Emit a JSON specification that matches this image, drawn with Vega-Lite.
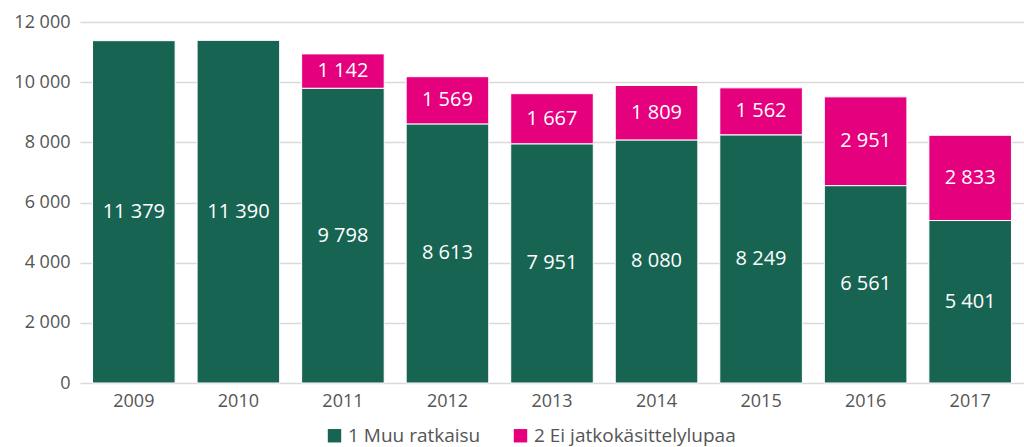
{
  "$schema": "https://vega.github.io/schema/vega-lite/v6.json",
  "width": 944,
  "height": 361,
  "autosize": {"type": "none"},
  "padding": {"left": 80, "top": 22, "right": 0, "bottom": 64},
  "config": {
    "locale": {"number": {"decimal": ",", "thousands": "\u00a0", "grouping": [3], "currency": ["", " €"]}},
    "view": {"stroke": null},
    "font": "Open Sans",
    "axis": {"labelFont": "Open Sans", "labelFontSize": 18, "labelColor": "#555555"},
    "legend": {"labelFont": "Open Sans", "labelFontSize": 19, "labelColor": "#555555"}
  },
  "data": {
    "values": [
      {"year": "2009", "series": "1 Muu ratkaisu", "value": 11379},
      {"year": "2010", "series": "1 Muu ratkaisu", "value": 11390},
      {"year": "2011", "series": "1 Muu ratkaisu", "value": 9798},
      {"year": "2011", "series": "2 Ei jatkokäsittelylupaa", "value": 1142},
      {"year": "2012", "series": "1 Muu ratkaisu", "value": 8613},
      {"year": "2012", "series": "2 Ei jatkokäsittelylupaa", "value": 1569},
      {"year": "2013", "series": "1 Muu ratkaisu", "value": 7951},
      {"year": "2013", "series": "2 Ei jatkokäsittelylupaa", "value": 1667},
      {"year": "2014", "series": "1 Muu ratkaisu", "value": 8080},
      {"year": "2014", "series": "2 Ei jatkokäsittelylupaa", "value": 1809},
      {"year": "2015", "series": "1 Muu ratkaisu", "value": 8249},
      {"year": "2015", "series": "2 Ei jatkokäsittelylupaa", "value": 1562},
      {"year": "2016", "series": "1 Muu ratkaisu", "value": 6561},
      {"year": "2016", "series": "2 Ei jatkokäsittelylupaa", "value": 2951},
      {"year": "2017", "series": "1 Muu ratkaisu", "value": 5401},
      {"year": "2017", "series": "2 Ei jatkokäsittelylupaa", "value": 2833}
    ]
  },
  "transform": [
    {"stack": "value", "groupby": ["year"], "sort": [{"field": "series", "order": "ascending"}], "as": ["v0", "v1"]},
    {"calculate": "(datum.v0 + datum.v1) / 2", "as": "mid"}
  ],
  "encoding": {
    "x": {
      "field": "year", "type": "ordinal", "title": null,
      "scale": {"paddingInner": 0.21, "paddingOuter": 0.12},
      "axis": {"labelAngle": 0, "domain": false, "ticks": false, "labelPadding": 9}
    }
  },
  "layer": [
    {
      "mark": {"type": "bar", "stroke": "white", "strokeWidth": 1},
      "encoding": {
        "y": {
          "field": "v0", "type": "quantitative", "title": null,
          "scale": {"domain": [0, 12000], "nice": false},
          "axis": {"values": [0, 2000, 4000, 6000, 8000, 10000, 12000], "format": ",d", "domain": false, "ticks": false, "labelPadding": 10, "gridColor": "#d9d9d9", "gridWidth": 1.5}
        },
        "y2": {"field": "v1"},
        "color": {
          "field": "series", "type": "nominal",
          "scale": {"domain": ["1 Muu ratkaisu", "2 Ei jatkokäsittelylupaa"], "range": ["#186453", "#e5007e"]},
          "legend": {"title": null, "orient": "none", "legendX": 245, "legendY": 404, "direction": "horizontal", "symbolType": "square", "symbolSize": 180, "symbolStrokeWidth": 0, "columnPadding": 30, "labelOffset": 4, "labelLimit": 0}
        }
      }
    },
    {
      "mark": {"type": "text", "color": "white", "fontSize": 20, "baseline": "middle"},
      "encoding": {
        "y": {"field": "mid", "type": "quantitative"},
        "text": {"field": "value", "type": "quantitative", "format": ",d"}
      }
    }
  ]
}
